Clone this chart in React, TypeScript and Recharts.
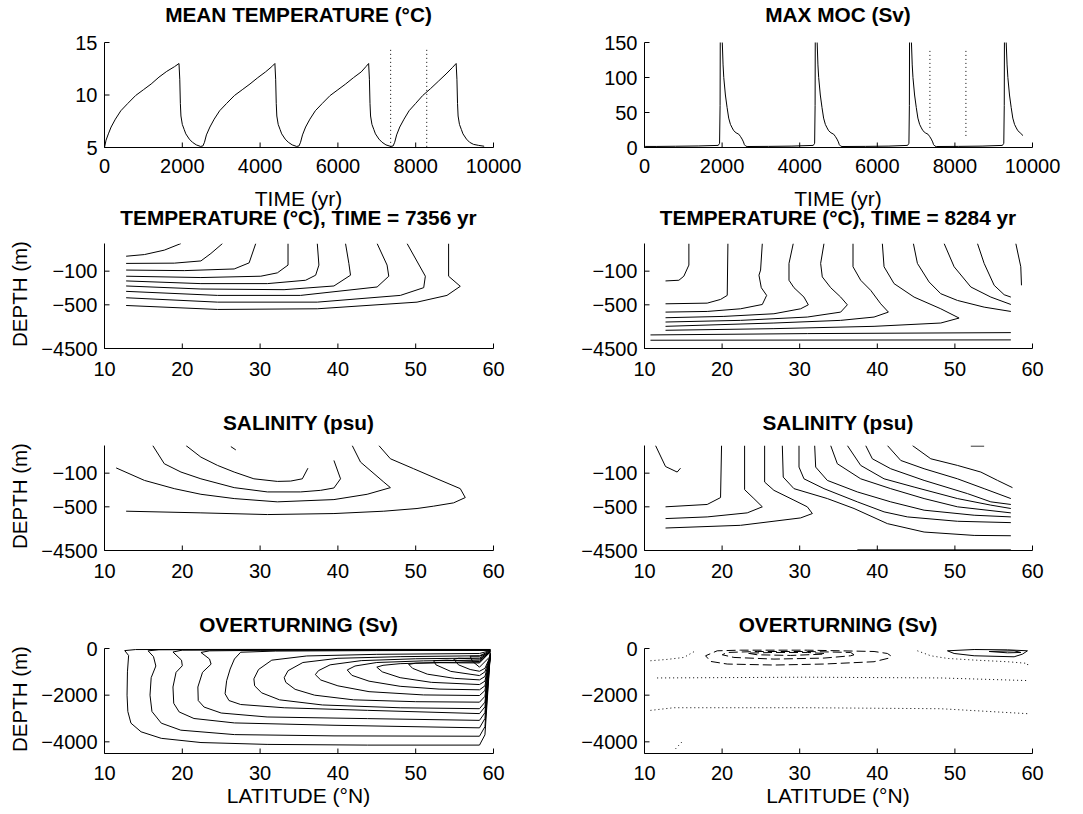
import React from 'react';
import { LineChart, Line, XAxis, YAxis } from 'recharts';

type XY = [number, number];

const FONT = '"Liberation Sans", Arial, Helvetica, sans-serif';

// ---------- top row: time series ----------
const timeTicks = [0, 2000, 4000, 6000, 8000, 10000];
const meanTempTicks = [5, 10, 15];
const maxMocTicks = [0, 50, 100, 150];

// [year, degC]
const meanTemp: XY[] = [
  [0, 5.0], [40, 5.7], [100, 6.3], [170, 6.95], [280, 7.7], [420, 8.5], [600, 9.2], [800, 9.95],
  [1000, 10.5], [1200, 11.05], [1400, 11.7], [1600, 12.25], [1800, 12.7], [1915, 13.0],
  [1935, 11.5], [1950, 9.2], [1965, 8.0], [2000, 7.2], [2050, 6.7], [2090, 6.3], [2180, 5.8],
  [2260, 5.5], [2360, 5.25], [2470, 5.1], [2530, 5.15], [2570, 5.5], [2620, 6.2],
  [2710, 6.95], [2820, 7.7], [2960, 8.5], [3140, 9.2], [3340, 9.95], [3540, 10.5], [3740, 11.05],
  [3940, 11.65], [4140, 12.2], [4300, 12.7], [4380, 13.0],
  [4400, 11.5], [4415, 9.2], [4430, 8.0], [4465, 7.2], [4515, 6.7], [4555, 6.3], [4645, 5.8],
  [4725, 5.5], [4825, 5.25], [4940, 5.1], [5000, 5.15], [5040, 5.5], [5090, 6.2],
  [5170, 6.95], [5280, 7.7], [5420, 8.5], [5600, 9.2], [5800, 9.95], [6000, 10.5], [6200, 11.05],
  [6400, 11.65], [6600, 12.2], [6720, 12.7], [6790, 13.0],
  [6810, 11.5], [6825, 9.2], [6840, 8.0], [6875, 7.2], [6925, 6.7], [6965, 6.3], [7055, 5.8],
  [7135, 5.5], [7235, 5.25], [7360, 5.1], [7420, 5.15], [7460, 5.5], [7510, 6.2],
  [7590, 6.95], [7700, 7.7], [7830, 8.5], [8000, 9.2], [8180, 9.95], [8380, 10.6], [8580, 11.3],
  [8780, 12.0], [8940, 12.6], [9040, 13.0],
  [9060, 11.5], [9075, 9.2], [9090, 8.0], [9125, 7.2], [9175, 6.7], [9215, 6.3], [9305, 5.8],
  [9385, 5.5], [9485, 5.3], [9620, 5.2], [9760, 5.12],
];

// [year, Sv]
const maxMoc: XY[] = [
  [0, 3], [20, 1.5], [300, 1.5], [800, 1.8], [1400, 2.2], [1900, 3.0], [1935, 6], [1948, 60],
  [1955, 200], [1990, 200], [2005, 150], [2025, 118], [2043, 100], [2085, 75], [2129, 57],
  [2170, 42], [2215, 33], [2260, 28], [2300, 24], [2360, 21], [2429, 19], [2470, 16], [2515, 12],
  [2550, 8], [2575, 4], [2610, 2], [2644, 1.4],
  [3200, 1.6], [3800, 2.0], [4350, 3.0], [4385, 6], [4397, 60], [4403, 200], [4440, 200],
  [4450, 150], [4470, 118], [4489, 100], [4531, 75], [4575, 57], [4616, 42], [4661, 33],
  [4706, 28], [4746, 24], [4806, 21], [4875, 19], [4916, 16], [4961, 12], [4996, 8], [5021, 4],
  [5056, 2], [5090, 1.4],
  [5700, 1.6], [6300, 2.0], [6780, 3.0], [6815, 6], [6827, 60], [6833, 200], [6870, 200],
  [6880, 150], [6900, 118], [6919, 100], [6961, 75], [7005, 57], [7046, 42], [7091, 33],
  [7136, 28], [7176, 24], [7236, 21], [7305, 19], [7346, 16], [7391, 12], [7426, 8], [7451, 4],
  [7486, 2], [7520, 1.4],
  [8100, 1.6], [8700, 2.0], [9225, 3.0], [9260, 6], [9272, 60], [9279, 200], [9312, 200],
  [9322, 150], [9345, 118], [9365, 100], [9407, 75], [9451, 57], [9492, 42], [9537, 33],
  [9582, 28], [9622, 24], [9682, 21], [9755, 17],
];

const snapshotYears = [7356, 8284];
const tempMarkers: XY[][] = [
  [[snapshotYears[0], 14.3], [snapshotYears[0], 5]],
  [[snapshotYears[1], 14.3], [snapshotYears[1], 5]],
];
const mocMarkers: XY[][] = [
  [[snapshotYears[0], 138], [snapshotYears[0], 26]],
  [[snapshotYears[1], 138], [snapshotYears[1], 14]],
];

// ---------- sections: [latitude, depth m] ----------
const latTicks = [10, 20, 30, 40, 50, 60];
const sectionDepthTicks = [-100, -500, -4500];
const ovtDepthTicks = [0, -2000, -4000];

const temp7356: XY[][] = [
  [[12.78, -46], [15.13, -40], [17.69, -24], [19.83, 0]],
  [[12.78, -72], [18.97, -71], [22.39, -63], [23.68, -36], [25.17, 0]],
  [[12.78, -96], [20.26, -98], [26.67, -92], [28.59, -70], [29.44, 0]],
  [[12.78, -160], [22.39, -176], [30.09, -160], [32.22, -120], [33.59, -78], [33.59, 0]],
  [[12.78, -216], [22.39, -248], [30.94, -248], [35.85, -208], [37.14, -148], [37.56, -78], [37.35, 0]],
  [[12.78, -276], [22.39, -312], [33.08, -320], [39.49, -276], [41.62, -148], [41.41, -72], [40.98, 0]],
  [[12.78, -340], [24.53, -388], [35.21, -388], [45.04, -288], [46.54, -160], [46.32, -78], [45.04, 0]],
  [[12.78, -416], [24.53, -468], [37.35, -468], [48.03, -388], [51.03, -296], [51.24, -160], [48.89, 0]],
  [[12.78, -561], [24.53, -924], [37.35, -864], [50.17, -468], [54.02, -388], [55.73, -280], [54.23, -160], [54.23, 0]],
];

const temp8284: XY[][] = [
  [[15.72, 0], [15.72, -78], [15.07, -160], [14.43, -208], [12.71, -216]],
  [[20.75, 0], [20.66, -388], [19.8, -436], [18.08, -480], [12.71, -488]],
  [[25.18, 0], [24.96, -96], [24.75, -148], [25.05, -296], [25.74, -388], [25.18, -496], [22.38, -864], [18.08, -1106], [12.71, -1167]],
  [[29.17, 0], [28.62, -72], [28.62, -208], [29.26, -296], [30.55, -408], [31.11, -500], [30.12, -864], [26.68, -1318], [20.23, -1561], [12.71, -1682]],
  [[33.13, 0], [32.7, -72], [32.91, -168], [33.99, -296], [35.28, -408], [36.14, -500], [35.28, -1167], [30.98, -1621], [22.38, -1924], [12.71, -2076]],
  [[36.87, 0], [36.87, -84], [37.86, -208], [39.15, -328], [40.44, -488], [41.43, -1167], [39.58, -1621], [35.28, -1924], [26.68, -2167], [12.71, -2470]],
  [[40.65, 0], [40.87, -84], [42.16, -248], [44.74, -408], [48.18, -864], [50.54, -1712], [48.18, -2167], [39.58, -2470], [26.68, -2682], [12.71, -2833]],
  [[44.65, 0], [45.17, -72], [46.67, -228], [48.18, -368], [50.33, -448], [53.77, -712], [57.21, -1106]],
  [[48.61, 0], [49.9, -84], [52.05, -288], [54.63, -408], [57.21, -496]],
  [[52.91, 0], [53.77, -72], [55.06, -268], [56.35, -380], [57.21, -408]],
  [[57.85, 0], [58.49, -84], [58.58, -268]],
  [[10.77, -3257], [30.98, -3136], [57.21, -3045]],
  [[10.77, -3742], [57.21, -3712]],
];

const sal7356: XY[][] = [
  [[20.47, 0], [22.39, -42], [24.53, -72], [26.67, -96], [29.2, -167], [32.22, -198], [33.93, -194], [35.43, -167], [36.15, -82]],
  [[16.2, 0], [17.69, -66], [19.83, -96], [22.39, -167], [26.67, -272], [30.94, -323], [35.21, -323], [37.78, -304], [39.49, -276], [40.34, -167], [39.49, -54]],
  [[11.5, -81], [15.13, -186], [18.97, -284], [22.39, -351], [26.67, -402], [32.22, -441], [39.49, -414], [43.76, -351], [46.75, -272], [45.9, -206], [42.91, -60], [41.84, 0]],
  [[12.78, -900], [22.39, -1054], [30.94, -1208], [39.49, -1116], [45.9, -900], [50.17, -654], [52.31, -492], [54.87, -453], [56.37, -390], [55.73, -284], [52.74, -167], [49.74, -84], [46.75, -48], [45.26, 0]],
  [[26.24, -4], [26.88, -16]],
];

const sal8284: XY[][] = [
  [[11.42, 0], [12.71, -76], [14.21, -96], [14.64, -82]],
  [[19.93, 0], [19.8, -390], [18.08, -472], [12.71, -500]],
  [[22.9, 0], [22.9, -296], [24.1, -402], [25.18, -500], [23.24, -1054], [18.08, -1424], [12.71, -1578]],
  [[25.48, 0], [25.48, -206], [26.68, -304], [29.26, -421], [30.98, -500], [31.63, -1116], [30.12, -1516], [22.38, -2194], [12.71, -2440]],
  [[27.76, 0], [27.88, -147], [29.26, -284], [33.56, -402], [37.0, -654], [41.3, -2040], [46.03, -2810], [52.48, -3118], [57.21, -3148]],
  [[29.91, 0], [29.91, -78], [30.55, -167], [33.13, -284], [37.43, -441], [40.87, -962], [43.88, -1424], [50.33, -1824], [57.21, -1948]],
  [[31.93, 0], [32.06, -78], [33.56, -186], [37.43, -323], [41.73, -441], [46.03, -808], [52.48, -1270], [57.21, -1424]],
  [[33.99, 0], [34.85, -66], [37.86, -167], [41.73, -284], [46.03, -402], [50.33, -500], [57.21, -1054]],
  [[36.14, 0], [37.86, -72], [40.87, -167], [44.74, -265], [50.33, -402], [54.63, -480], [57.21, -654]],
  [[38.5, 0], [39.36, -48], [41.73, -84], [46.03, -186], [51.62, -343], [54.63, -441], [57.21, -472]],
  [[41.3, 0], [43.02, -54], [46.03, -84], [50.33, -167], [53.77, -284], [57.21, -402]],
  [[44.52, 0], [46.89, -48], [50.33, -72], [53.34, -96], [55.49, -186], [57.42, -272]],
  [[52.05, -2], [53.77, -2]],
  [[37.43, -4442], [57.21, -4442]],
];

const ovt7356: XY[][] = [
  [[59.6, -40], [45, -35], [30, -35], [14, -45], [12.6, -90], [13.1, -300], [12.95, -1000], [12.9, -2000], [13.0, -2700], [13.4, -3200], [14.7, -3570], [17.3, -3850], [22.4, -4030], [30.9, -4110], [43.8, -4140], [58.2, -4140], [58.9, -3700], [59.6, -200]],
  [[59.6, -50], [45, -45], [30, -45], [17, -55], [15.6, -100], [16.3, -350], [16.6, -750], [16.0, -1250], [15.85, -2000], [16.1, -2700], [17.3, -3200], [19.8, -3500], [26.7, -3690], [39.5, -3745], [58.2, -3760], [58.9, -3350], [59.6, -210]],
  [[59.6, -60], [45, -55], [30, -60], [20, -70], [18.8, -150], [19.9, -500], [20.0, -740], [19.2, -1020], [18.8, -1650], [18.9, -2350], [19.6, -2720], [21.5, -3000], [26.7, -3190], [39.5, -3290], [58.2, -3400], [58.9, -3000], [59.6, -220]],
  [[59.6, -70], [45, -70], [30, -80], [23.5, -100], [22.4, -170], [23.5, -450], [23.7, -670], [22.6, -1020], [22.0, -1650], [22.05, -2230], [22.8, -2510], [25.0, -2765], [30.9, -2935], [43.8, -3005], [58.2, -3080], [58.9, -2750], [59.6, -230]],
  [[59.6, -80], [45, -90], [32, -110], [27.5, -160], [26.7, -450], [26.15, -880], [25.7, -1380], [25.5, -1940], [26.0, -2230], [27.5, -2400], [33.1, -2540], [43.8, -2650], [58.2, -2790], [58.9, -2500], [59.6, -240]],
  [[59.6, -90], [58.2, -213], [45, -250], [36, -320], [31.5, -500], [29.8, -900], [29.2, -1300], [29.3, -1600], [30.2, -1900], [32.5, -2200], [38, -2420], [48, -2540], [58.2, -2580], [58.9, -2300], [59.6, -250]],
  [[59.6, -100], [58.2, -312], [48, -350], [40, -420], [35.5, -600], [33.6, -950], [33.1, -1250], [33.3, -1450], [34.5, -1750], [37, -2000], [42, -2200], [50, -2280], [58.2, -2300], [58.9, -2050], [59.6, -260]],
  [[59.6, -110], [58.2, -410], [50, -440], [43, -520], [39, -700], [37.5, -950], [37.1, -1120], [37.8, -1350], [40, -1600], [44, -1850], [51, -1990], [58.2, -2015], [58.9, -1800], [59.6, -270]],
  [[59.6, -120], [58.2, -500], [51, -530], [45, -600], [42.2, -750], [41.2, -920], [41.8, -1150], [44, -1400], [48, -1620], [53, -1740], [58.2, -1770], [58.9, -1600], [59.6, -280]],
  [[59.6, -130], [58.2, -580], [53, -600], [48, -650], [45.8, -720], [45, -800], [45.7, -1000], [48, -1250], [52, -1450], [58.2, -1545], [58.9, -1400], [59.6, -290]],
  [[59.6, -140], [58.2, -620], [53, -610], [50, -630], [49.1, -680], [49.6, -850], [51.5, -1100], [55, -1280], [58.2, -1345], [58.9, -1200], [59.6, -300]],
  [[59.6, -150], [58.2, -560], [54, -500], [52.3, -520], [52.6, -700], [54.5, -980], [58.2, -1160], [58.9, -1000], [59.6, -310]],
  [[59.6, -160], [58.2, -450], [55.5, -420], [54.9, -460], [55.5, -700], [57, -900], [58.2, -975], [58.9, -850], [59.6, -320]],
  [[59.6, -170], [58.2, -330], [57, -330], [57.3, -550], [58.2, -800], [59.6, -330]],
];

const ovt8284Dashed: XY[][] = [
  [[41.73, -312], [41.3, -213], [39.58, -128], [30.98, -71], [22.38, -71], [19.37, -99], [17.87, -312], [18.51, -553], [20.66, -666], [26.68, -709], [33.13, -666], [39.58, -567], [41.51, -411], [41.73, -312]],
  [[37.0, -269], [36.57, -170], [30.98, -128], [24.53, -128], [20.66, -170], [20.02, -269], [21.52, -383], [26.68, -454], [33.13, -411], [36.57, -312], [37.0, -269]],
  [[33.13, -213], [30.98, -170], [26.68, -170], [23.24, -199], [24.53, -269], [28.83, -298], [33.13, -241]],
];
const ovt8284Solid: XY[][] = [
  [[49.04, -99], [49.9, -213], [52.48, -312], [57.63, -355], [58.71, -241], [59.35, -99], [56.78, -57], [52.48, -43], [49.04, -99]],
  [[54.41, -128], [56.78, -185], [58.5, -170], [57.63, -99], [54.41, -128]],
];
const ovt8284Zero: XY[][] = [
  [[10.77, -525], [12.92, -468], [15.07, -383], [16.58, -99]],
  [[45.17, -99], [46.89, -312], [49.04, -425], [52.48, -496], [56.78, -567], [59.35, -638], [59.44, -808]],
  [[11.63, -1262], [30.98, -1230], [48.18, -1262], [59.35, -1375]],
  [[10.77, -2652], [13.78, -2538], [30.98, -2538], [48.18, -2581], [59.35, -2793]],
  [[14.0, -4300], [14.86, -3990]],
];

// stretched depth axis used by the temperature / salinity sections
const depthKnots: XY[] = [[0, 0], [-100, -0.2635], [-500, -0.584], [-4500, -1]];
const stretch = (d: number) => {
  for (let i = 1; i < depthKnots.length; i++) {
    const [d0, s0] = depthKnots[i - 1];
    const [d1, s1] = depthKnots[i];
    if (d >= d1 || i === depthKnots.length - 1) return s0 + ((d - d0) / (d1 - d0)) * (s1 - s0);
  }
  return 0;
};
const stretchedTicks = sectionDepthTicks.map(stretch);
const stretchedLabel = (v: number) => {
  let best = sectionDepthTicks[0];
  sectionDepthTicks.forEach((d) => {
    if (Math.abs(stretch(d) - v) < Math.abs(stretch(best) - v)) best = d;
  });
  return minus(best);
};

function minus(v: number) {
  return String(v).replace('-', '\u2212');
}

// tick labels drawn by hand so the font size is exact
const makeXTick = (fmt: (v: number) => string) => (props: any) => (
  <text x={props.x} y={props.y} dy={14.3} textAnchor="middle" fontSize={20} fontFamily={FONT} fill="#000">
    {fmt(props.payload.value)}
  </text>
);
const makeYTick = (fmt: (v: number) => string) => (props: any) => (
  <text x={props.x} y={props.y} dy={7.2} textAnchor="end" fontSize={20} fontFamily={FONT} fill="#000">
    {fmt(props.payload.value)}
  </text>
);

type Curve = { pts: XY[]; dash?: string };
type PanelProps = {
  x: number;
  y: number;
  w: number;
  h: number;
  title: string;
  titleGap: number;
  tickGap: number;
  xDomain: [number, number];
  xTicks: number[];
  yDomain: [number, number];
  yTicks: number[];
  yFmt?: (v: number) => string;
  yMap?: (v: number) => number;
  curves: Curve[];
  xTitle?: string;
  xTitleGap?: number;
  yTitle?: string;
};

const PAD_L = 90;
const PAD_T = 10;
const PAD_R = 45;

function Panel(p: PanelProps) {
  const map = p.yMap ?? ((v: number) => v);
  const common = {
    type: 'number' as const,
    stroke: '#000',
    allowDataOverflow: true,
    interval: 0 as const,
    tickSize: -5,
  };
  return (
    <>
      <div style={{ position: 'absolute', left: p.x - PAD_L, top: p.y - PAD_T }}>
        <LineChart
          width={PAD_L + 0.5 + p.w + PAD_R}
          height={PAD_T + 0.5 + p.h + 40}
          margin={{ top: PAD_T + 0.5, right: PAD_R, bottom: 0, left: 0 }}
        >
          <XAxis xAxisId="b" dataKey="x" domain={p.xDomain} ticks={p.xTicks} height={40}
            tickMargin={p.tickGap + 5} tick={makeXTick(minus)} {...common} />
          <XAxis xAxisId="t" orientation="top" dataKey="x" domain={p.xDomain} ticks={p.xTicks} height={0}
            tickFormatter={() => ''} {...common} />
          <YAxis yAxisId="l" dataKey="y" domain={p.yDomain} ticks={p.yTicks} width={PAD_L + 0.5}
            tickMargin={12} tick={makeYTick(p.yFmt ?? minus)} {...common} />
          <YAxis yAxisId="r" orientation="right" dataKey="y" domain={p.yDomain} ticks={p.yTicks} width={0}
            tickFormatter={() => ''} {...common} />
          {p.curves.map((c, i) => (
            <Line
              key={i}
              xAxisId="b"
              yAxisId="l"
              data={c.pts.map(([x, y]) => ({ x, y: map(y) }))}
              dataKey="y"
              type="linear"
              stroke="#000"
              strokeWidth={1}
              strokeDasharray={c.dash}
              dot={false}
              activeDot={false}
              isAnimationActive={false}
            />
          ))}
        </LineChart>
      </div>
      <div style={{ position: 'absolute', left: p.x - 50, width: p.w + 100, top: p.y - p.titleGap - 17.5, textAlign: 'center',
        fontWeight: 'bold', fontSize: 20.8, lineHeight: '20px', whiteSpace: 'nowrap' }}>
        {p.title}
      </div>
      {p.xTitle && (
        <div style={{ position: 'absolute', left: p.x, width: p.w, top: p.y + p.h + (p.xTitleGap ?? 50) - 17.5,
          textAlign: 'center', fontSize: 21, lineHeight: '20px', whiteSpace: 'nowrap' }}>
          {p.xTitle}
        </div>
      )}
      {p.yTitle && (
        <div style={{ position: 'absolute', left: 19.5 - 100, width: 200, top: p.y + p.h / 2 - 2 - 10, height: 20,
          textAlign: 'center', fontSize: 20.5, lineHeight: '20px', whiteSpace: 'nowrap', transform: 'rotate(-90deg)' }}>
          {p.yTitle}
        </div>
      )}
    </>
  );
}

const solid = (sets: XY[][]): Curve[] => sets.map((pts) => ({ pts }));

export default function App() {
  const L = { x: 104, w: 389 };
  const R = { x: 644, w: 388 };
  const lat = { xDomain: [10, 60] as [number, number], xTicks: latTicks };
  const sect = {
    yDomain: [-1, 0] as [number, number],
    yTicks: stretchedTicks,
    yFmt: stretchedLabel,
    yMap: stretch,
  };
  const ovt = { yDomain: [-4500, 0] as [number, number], yTicks: ovtDepthTicks };
  const dotted = '1 3';

  return (
    <div style={{ position: 'absolute', left: 0, top: 0, width: 1083, height: 814, background: '#fff',
      fontFamily: FONT, color: '#000', overflow: 'hidden' }}>
      <Panel {...L} y={42} h={105} title="MEAN TEMPERATURE (°C)" titleGap={20} tickGap={11}
        xDomain={[0, 10000]} xTicks={timeTicks} yDomain={[5, 15]} yTicks={meanTempTicks}
        curves={[{ pts: meanTemp }, ...tempMarkers.map((pts) => ({ pts, dash: dotted }))]}
        xTitle="TIME (yr)" xTitleGap={59} />
      <Panel {...R} y={42} h={105} title="MAX MOC (Sv)" titleGap={20} tickGap={11}
        xDomain={[0, 10000]} xTicks={timeTicks} yDomain={[0, 150]} yTicks={maxMocTicks}
        curves={[{ pts: maxMoc }, ...mocMarkers.map((pts) => ({ pts, dash: dotted }))]}
        xTitle="TIME (yr)" xTitleGap={59} />

      <Panel {...L} y={243} h={105} title="TEMPERATURE (°C), TIME = 7356 yr" titleGap={18} tickGap={13}
        {...lat} {...sect} curves={solid(temp7356)} yTitle="DEPTH (m)" />
      <Panel {...R} y={243} h={105} title="TEMPERATURE (°C), TIME = 8284 yr" titleGap={18} tickGap={13}
        {...lat} {...sect} curves={solid(temp8284)} />

      <Panel {...L} y={445} h={105} title="SALINITY (psu)" titleGap={15} tickGap={13}
        {...lat} {...sect} curves={solid(sal7356)} yTitle="DEPTH (m)" />
      <Panel {...R} y={445} h={105} title="SALINITY (psu)" titleGap={15} tickGap={13}
        {...lat} {...sect} curves={solid(sal8284)} />

      <Panel {...L} y={648} h={105} title="OVERTURNING (Sv)" titleGap={16} tickGap={12}
        {...lat} {...ovt} curves={solid(ovt7356)} yTitle="DEPTH (m)" xTitle="LATITUDE (°N)" xTitleGap={50} />
      <Panel {...R} y={648} h={105} title="OVERTURNING (Sv)" titleGap={16} tickGap={12}
        {...lat} {...ovt}
        curves={[
          ...ovt8284Dashed.map((pts) => ({ pts, dash: '9 4' })),
          ...solid(ovt8284Solid),
          ...ovt8284Zero.map((pts) => ({ pts, dash: dotted })),
        ]}
        xTitle="LATITUDE (°N)" xTitleGap={50} />
    </div>
  );
}
